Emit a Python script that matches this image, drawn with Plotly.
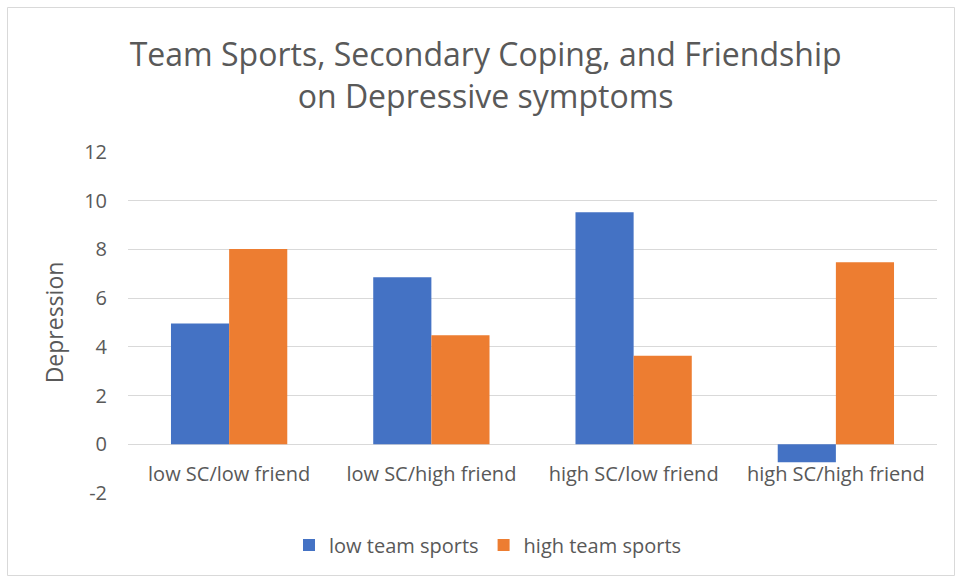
import plotly.graph_objects as go

categories = ["low SC/low friend", "low SC/high friend", "high SC/low friend", "high SC/high friend"]
low_team = [4.96, 6.86, 9.53, -0.74]
high_team = [8.02, 4.48, 3.64, 7.47]
series_names = ["low team sports", "high team sports"]
y_ticks = [-2, 0, 2, 4, 6, 8, 10, 12]
y_tick_text = [str(v) for v in y_ticks]

BLUE = "#4472C4"
ORANGE = "#ED7D31"
GREY = "#595959"
FONT = "Open Sans"

W, H = 956, 577
ML, MR, MT, MB = 128, 19, 152, 84
ymin, ymax = -2, 12

fig = go.Figure()
fig.add_trace(go.Bar(x=categories, y=low_team, name=series_names[0], marker=dict(color=BLUE, line=dict(width=0))))
fig.add_trace(go.Bar(x=categories, y=high_team, name=series_names[1], marker=dict(color=ORANGE, line=dict(width=0))))

fig.update_layout(
    width=W, height=H,
    margin=dict(l=ML, r=MR, t=MT, b=MB, autoexpand=False),
    paper_bgcolor="white", plot_bgcolor="white",
    barmode="group", bargap=0.425, bargroupgap=0,
    font=dict(family=FONT, color=GREY, size=20),
    title=dict(text="Team Sports, Secondary Coping, and Friendship<br>on Depressive symptoms",
               x=0.508, xanchor="center", y=1 - 66 / H, yanchor="middle",
               font=dict(family=FONT, size=32, color=GREY)),
    legend=dict(orientation="h", xref="container", x=488 / W, xanchor="center",
                yref="container", y=1 - 545 / H, yanchor="middle",
                font=dict(size=20, color=GREY), itemwidth=30, traceorder="normal"),
    yaxis=dict(range=[ymin, ymax], tickvals=y_ticks, ticktext=y_tick_text, showgrid=True,
               gridcolor="#D9D9D9", gridwidth=1,
               zeroline=True, zerolinecolor="#D9D9D9", zerolinewidth=1, showline=False,
               ticks="", ticklabelstandoff=20, tickfont=dict(size=20, color=GREY), automargin=False,
               title=dict(text="Depression", font=dict(size=23, color=GREY), standoff=14)),
    xaxis=dict(anchor="free", position=(0 - ymin) / (ymax - ymin), showline=False, ticks="",
               tickfont=dict(size=20, color=GREY), ticklabelstandoff=16, showgrid=False, automargin=False),
    shapes=[dict(type="rect", xref="paper", yref="paper",
                 x0=-(ML - 7.5) / (W - ML - MR), x1=1 + (MR - 1.5) / (W - ML - MR),
                 y0=-(MB - 1.5) / (H - MT - MB), y1=1 + (MT - 7.5) / (H - MT - MB),
                 line=dict(color="#D9D9D9", width=1), layer="below")],
)

fig.write_html("out.html")
